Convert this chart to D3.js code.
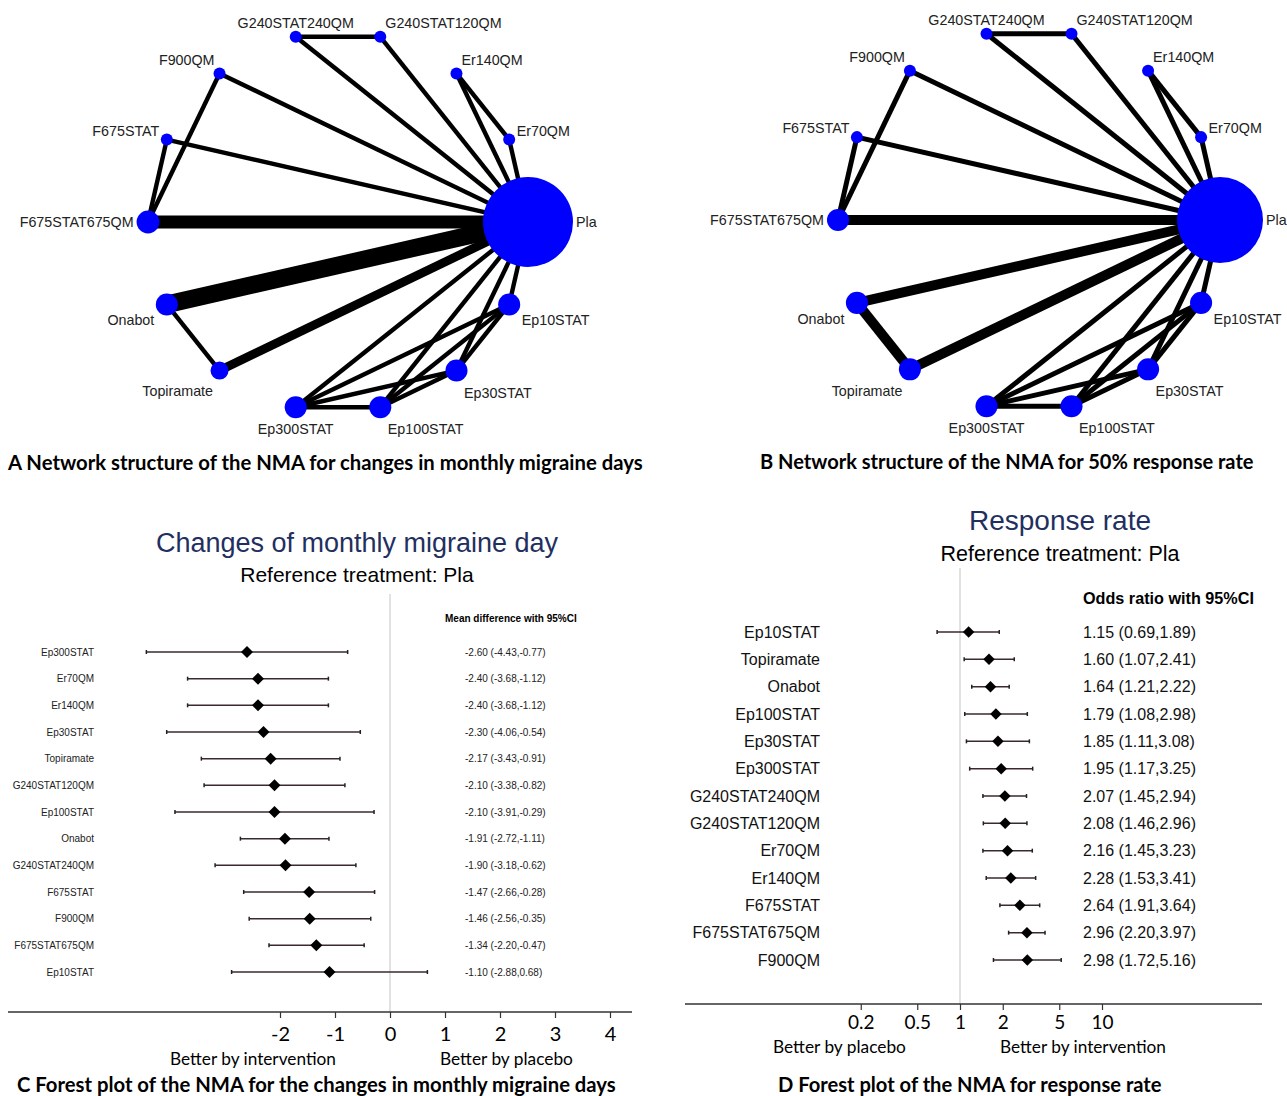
<!DOCTYPE html>
<html>
<head>
<meta charset="utf-8">
<script src="https://cdn.jsdelivr.net/npm/d3@7"></script>
<style>
  html, body { margin: 0; padding: 0; background: #fff; }
  svg { display: block; }
</style>
</head>
<body>
<script>
// ---------------- DATA ----------------
// network nodes (circular order, starting from placebo on the right, counter-clockwise)
const treatments = ["Pla","Er70QM","Er140QM","G240STAT120QM","G240STAT240QM","F900QM","F675STAT",
                    "F675STAT675QM","Onabot","Topiramate","Ep300STAT","Ep100STAT","Ep30STAT","Ep10STAT"];
// node weight (approximate sample size) for panel A and B
const nodeSizeA = [4500, 80, 80, 80, 80, 80, 80, 290, 270, 180, 270, 270, 270, 270];
const nodeSizeB = [4100, 80, 80, 80, 80, 80, 80, 270, 270, 270, 270, 270, 270, 270];
// comparisons
const edgeFrom = ["G240STAT240QM","G240STAT240QM","G240STAT120QM","Er140QM","Er140QM","Er70QM",
                  "F900QM","F900QM","F675STAT","F675STAT","F675STAT675QM","Onabot","Onabot","Topiramate",
                  "Ep300STAT","Ep300STAT","Ep300STAT","Ep300STAT","Ep100STAT","Ep100STAT","Ep100STAT",
                  "Ep30STAT","Ep30STAT","Ep10STAT"];
const edgeTo   = ["G240STAT120QM","Pla","Pla","Er70QM","Pla","Pla",
                  "F675STAT675QM","Pla","F675STAT675QM","Pla","Pla","Pla","Topiramate","Pla",
                  "Pla","Ep100STAT","Ep30STAT","Ep10STAT","Pla","Ep30STAT","Ep10STAT",
                  "Pla","Ep10STAT","Pla"];
// number of studies per comparison
const studiesA = [1,1,1,1,1,1, 1,1,1,1,3,4,1,2, 1,1,1,1,1,1,1, 1,1,1];
const studiesB = [1,1,1,1,1,1, 1,1,1,1,2,2,2,2, 1,1,1,1,1,1,1, 1,1,1];

// forest plot C: mean difference
const catsC  = ["Ep300STAT","Er70QM","Er140QM","Ep30STAT","Topiramate","G240STAT120QM","Ep100STAT",
                "Onabot","G240STAT240QM","F675STAT","F900QM","F675STAT675QM","Ep10STAT"];
const mdC    = [-2.60,-2.40,-2.40,-2.30,-2.17,-2.10,-2.10,-1.91,-1.90,-1.47,-1.46,-1.34,-1.10];
const lowC   = [-4.43,-3.68,-3.68,-4.06,-3.43,-3.38,-3.91,-2.72,-3.18,-2.66,-2.56,-2.20,-2.88];
const highC  = [-0.77,-1.12,-1.12,-0.54,-0.91,-0.82,-0.29,-1.11,-0.62,-0.28,-0.35,-0.47, 0.68];
const ticksC = [-2,-1,0,1,2,3,4];

// forest plot D: odds ratio
const catsD  = ["Ep10STAT","Topiramate","Onabot","Ep100STAT","Ep30STAT","Ep300STAT","G240STAT240QM",
                "G240STAT120QM","Er70QM","Er140QM","F675STAT","F675STAT675QM","F900QM"];
const orD    = [1.15,1.60,1.64,1.79,1.85,1.95,2.07,2.08,2.16,2.28,2.64,2.96,2.98];
const lowD   = [0.69,1.07,1.21,1.08,1.11,1.17,1.45,1.46,1.45,1.53,1.91,2.20,1.72];
const highD  = [1.89,2.41,2.22,2.98,3.08,3.25,2.94,2.96,3.23,3.41,3.64,3.97,5.16];
const ticksD = [0.2,0.5,1,2,5,10];
const tickLabelsD = ["0.2","0.5","1","2","5","10"];

// ---------------- DRAWING ----------------
const W = 1287, H = 1096;
const ARIAL = "'Liberation Sans', Arial, Helvetica, sans-serif";
const CAL = "Lato, 'Open Sans', sans-serif";
const svg = d3.select("body").append("svg").attr("width", W).attr("height", H);
svg.append("rect").attr("width", W).attr("height", H).attr("fill", "#fff");

function fit(sel, target) {
  const len = sel.node().getComputedTextLength();
  const fs = parseFloat(sel.attr("font-size"));
  if (len > 0) sel.attr("font-size", fs * target / len);
  return sel;
}
const f2 = v => v.toFixed(2);

function drawNetwork(cx, cy, R, sizes, studies, rMax, perStudy) {
  const g = svg.append("g");
  const n = treatments.length;
  const ang = d3.scaleLinear().domain([0, n]).range([0, 2 * Math.PI]);
  const rScale = d3.scaleSqrt().domain([0, d3.max(sizes)]).range([0, rMax]);
  const wScale = d3.scaleLinear().domain([0, 1]).range([0, perStudy]);
  const nodes = treatments.map((t, i) => {
    const a = ang(i);
    return { name: t, a, x: cx + R * Math.cos(a), y: cy - R * Math.sin(a), r: rScale(sizes[i]) };
  });
  const byName = new Map(nodes.map(d => [d.name, d]));
  const edges = edgeFrom.map((f, i) => ({ s: byName.get(f), t: byName.get(edgeTo[i]), k: studies[i] }));

  g.selectAll("line.edge").data(edges).join("line")
    .attr("class", "edge")
    .attr("x1", d => d.s.x).attr("y1", d => d.s.y)
    .attr("x2", d => d.t.x).attr("y2", d => d.t.y)
    .attr("stroke", "#000").attr("stroke-width", d => wScale(d.k));

  g.selectAll("circle.node").data(nodes).join("circle")
    .attr("class", "node")
    .attr("cx", d => d.x).attr("cy", d => d.y).attr("r", d => d.r)
    .attr("fill", "#0000ff");

  g.selectAll("text.lab").data(nodes).join("text")
    .attr("class", "lab")
    .attr("font-family", ARIAL).attr("font-size", 14.3).attr("fill", "#222")
    .each(function(d) {
      const s = Math.sin(d.a), c = Math.cos(d.a), as = Math.abs(s);
      let anchor, dx, dy;
      if (c > 0) anchor = "start"; else if (c < -0.4) anchor = "end"; else anchor = "middle";
      let off;
      if (as < 0.1) off = d.r + 3; else if (as < 0.5) off = d.r + 1.5; else off = d.r * 0.5 + 2;
      dx = anchor === "start" ? off : anchor === "end" ? -off : 0;
      if (as < 0.1) dy = 0;
      else if (s > 0) dy = as < 0.5 ? -(d.r + 3) : -(d.r + 7.5);
      else dy = as < 0.5 ? (d.r + 5) : (d.r + 11);
      d3.select(this).attr("x", d.x + dx).attr("y", d.y + dy).attr("dy", "0.35em")
        .attr("text-anchor", anchor).text(d.name);
    });
}

drawNetwork(338, 222, 190, nodeSizeA, studiesA, 45, 4.4);
drawNetwork(1029, 220, 191, nodeSizeB, studiesB, 43, 5);

// captions
const capStyle = s => s.attr("font-family", CAL).attr("font-weight", 700).attr("font-size", 20).attr("fill", "#000");
fit(capStyle(svg.append("text").attr("x", 8).attr("y", 470))
  .text("A Network structure of the NMA for changes in monthly migraine days"), 635);
fit(capStyle(svg.append("text").attr("x", 760).attr("y", 469))
  .text("B Network structure of the NMA for 50% response rate"), 494);
fit(capStyle(svg.append("text").attr("x", 17).attr("y", 1092))
  .text("C Forest plot of the NMA for the changes in monthly migraine days"), 599);
fit(capStyle(svg.append("text").attr("x", 778).attr("y", 1092))
  .text("D Forest plot of the NMA for response rate"), 384);

// ---------- Forest C ----------
(function() {
  const g = svg.append("g");
  const x = d3.scaleLinear().domain([-2, 4]).range([280, 610]);
  const y = d3.scalePoint().domain(catsC).range([652, 972]);
  const axisY = 1012;

  g.append("text").attr("x", 357).attr("y", 552).attr("text-anchor", "middle")
    .attr("font-family", ARIAL).attr("font-size", 27).attr("fill", "#1f3060")
    .text("Changes of monthly migraine day");
  g.append("text").attr("x", 357).attr("y", 582).attr("text-anchor", "middle")
    .attr("font-family", ARIAL).attr("font-size", 21).attr("fill", "#000")
    .text("Reference treatment: Pla");

  g.append("line").attr("x1", x(0)).attr("x2", x(0)).attr("y1", 594).attr("y2", axisY)
    .attr("stroke", "#cfcfcf").attr("stroke-width", 1.2);

  g.append("text").attr("x", 445).attr("y", 622)
    .attr("font-family", ARIAL).attr("font-size", 10).attr("font-weight", 700).attr("fill", "#000")
    .text("Mean difference with 95%CI");

  const rows = catsC.map((c, i) => ({ c, m: mdC[i], lo: lowC[i], hi: highC[i] }));
  const row = g.selectAll("g.row").data(rows).join("g").attr("class", "row");
  row.append("text").attr("x", 94).attr("y", d => y(d.c)).attr("dy", "0.35em")
    .attr("text-anchor", "end").attr("font-family", ARIAL).attr("font-size", 10).attr("fill", "#222")
    .text(d => d.c);
  row.append("line").attr("x1", d => x(d.lo)).attr("x2", d => x(d.hi))
    .attr("y1", d => y(d.c)).attr("y2", d => y(d.c)).attr("stroke", "#3a2a2e").attr("stroke-width", 1.5);
  row.append("line").attr("x1", d => x(d.lo)).attr("x2", d => x(d.lo))
    .attr("y1", d => y(d.c) - 2).attr("y2", d => y(d.c) + 2).attr("stroke", "#222").attr("stroke-width", 1.5);
  row.append("line").attr("x1", d => x(d.hi)).attr("x2", d => x(d.hi))
    .attr("y1", d => y(d.c) - 2).attr("y2", d => y(d.c) + 2).attr("stroke", "#222").attr("stroke-width", 1.5);
  row.append("path").attr("d", d3.symbol().type(d3.symbolSquare).size(72)())
    .attr("transform", d => `translate(${x(d.m)},${y(d.c)}) rotate(45)`).attr("fill", "#000");
  row.append("text").attr("x", 465).attr("y", d => y(d.c)).attr("dy", "0.35em")
    .attr("font-family", ARIAL).attr("font-size", 10).attr("fill", "#222")
    .text(d => `${f2(d.m)} (${f2(d.lo)},${f2(d.hi)})`);

  g.append("line").attr("x1", 8).attr("x2", 632).attr("y1", axisY).attr("y2", axisY)
    .attr("stroke", "#333").attr("stroke-width", 1.3);
  const ax = g.append("g").attr("transform", `translate(0,${axisY})`)
    .call(d3.axisBottom(x).tickValues(ticksC).tickSize(6).tickPadding(9).tickFormat(d => String(d)));
  ax.select(".domain").remove();
  ax.selectAll(".tick line").attr("stroke", "#333").attr("stroke-width", 1.2);
  ax.selectAll(".tick text").attr("font-family", CAL).attr("font-size", 20).attr("fill", "#000");

  fit(g.append("text").attr("x", 170).attr("y", 1065).attr("font-family", CAL).attr("font-size", 17)
    .attr("fill", "#000").text("Better by intervention"), 166);
  fit(g.append("text").attr("x", 440).attr("y", 1065).attr("font-family", CAL).attr("font-size", 17)
    .attr("fill", "#000").text("Better by placebo"), 133);
})();

// ---------- Forest D ----------
(function() {
  const g = svg.append("g");
  const x = d3.scaleLog().domain([1, 10]).range([960, 1102]);
  const y = d3.scalePoint().domain(catsD).range([632, 960]);
  const axisY = 1004;

  g.append("text").attr("x", 1060).attr("y", 530).attr("text-anchor", "middle")
    .attr("font-family", ARIAL).attr("font-size", 28).attr("fill", "#1f3060")
    .text("Response rate");
  g.append("text").attr("x", 1060).attr("y", 561).attr("text-anchor", "middle")
    .attr("font-family", ARIAL).attr("font-size", 21.5).attr("fill", "#000")
    .text("Reference treatment: Pla");

  g.append("line").attr("x1", x(1)).attr("x2", x(1)).attr("y1", 568).attr("y2", axisY)
    .attr("stroke", "#cfcfcf").attr("stroke-width", 1.2);

  g.append("text").attr("x", 1083).attr("y", 604)
    .attr("font-family", ARIAL).attr("font-size", 16.2).attr("font-weight", 700).attr("fill", "#000")
    .text("Odds ratio with 95%CI");

  const rows = catsD.map((c, i) => ({ c, m: orD[i], lo: lowD[i], hi: highD[i] }));
  const row = g.selectAll("g.row").data(rows).join("g").attr("class", "row");
  row.append("text").attr("x", 820).attr("y", d => y(d.c)).attr("dy", "0.35em")
    .attr("text-anchor", "end").attr("font-family", ARIAL).attr("font-size", 16).attr("fill", "#111")
    .text(d => d.c);
  row.append("line").attr("x1", d => x(d.lo)).attr("x2", d => x(d.hi))
    .attr("y1", d => y(d.c)).attr("y2", d => y(d.c)).attr("stroke", "#3a2a2e").attr("stroke-width", 1.5);
  row.append("line").attr("x1", d => x(d.lo)).attr("x2", d => x(d.lo))
    .attr("y1", d => y(d.c) - 2).attr("y2", d => y(d.c) + 2).attr("stroke", "#222").attr("stroke-width", 1.5);
  row.append("line").attr("x1", d => x(d.hi)).attr("x2", d => x(d.hi))
    .attr("y1", d => y(d.c) - 2).attr("y2", d => y(d.c) + 2).attr("stroke", "#222").attr("stroke-width", 1.5);
  row.append("path").attr("d", d3.symbol().type(d3.symbolSquare).size(66)())
    .attr("transform", d => `translate(${x(d.m)},${y(d.c)}) rotate(45)`).attr("fill", "#000");
  row.append("text").attr("x", 1083).attr("y", d => y(d.c)).attr("dy", "0.35em")
    .attr("font-family", ARIAL).attr("font-size", 16).attr("fill", "#111")
    .text(d => `${f2(d.m)} (${f2(d.lo)},${f2(d.hi)})`);

  g.append("line").attr("x1", 685).attr("x2", 1262).attr("y1", axisY).attr("y2", axisY)
    .attr("stroke", "#333").attr("stroke-width", 1.3);
  const ax = g.append("g").attr("transform", `translate(0,${axisY})`)
    .call(d3.axisBottom(x).tickValues(ticksD).tickSize(6).tickPadding(6)
      .tickFormat((d, i) => tickLabelsD[i]));
  ax.select(".domain").remove();
  ax.selectAll(".tick line").attr("stroke", "#333").attr("stroke-width", 1.2);
  ax.selectAll(".tick text").attr("font-family", CAL).attr("font-size", 19).attr("fill", "#000");

  fit(g.append("text").attr("x", 773).attr("y", 1053).attr("font-family", CAL).attr("font-size", 17)
    .attr("fill", "#000").text("Better by placebo"), 133);
  fit(g.append("text").attr("x", 1000).attr("y", 1053).attr("font-family", CAL).attr("font-size", 17)
    .attr("fill", "#000").text("Better by intervention"), 166);
})();
</script>
</body>
</html>
